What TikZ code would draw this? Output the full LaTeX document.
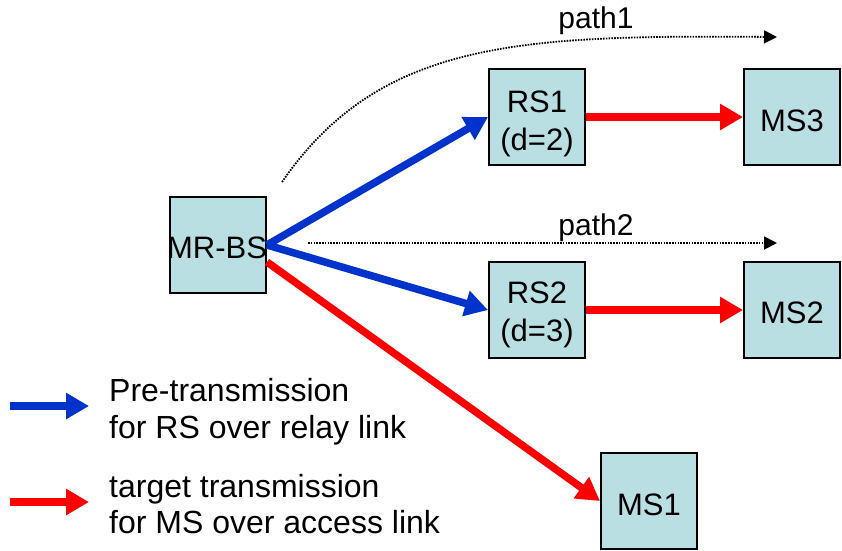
\documentclass[tikz,border=0pt]{standalone}
\usepackage{fontspec}
\setmainfont{Liberation Sans}
\usetikzlibrary{arrows.meta}
\definecolor{boxfill}{RGB}{185,223,227}
\definecolor{relayblue}{RGB}{0,51,204}
\definecolor{accessred}{RGB}{255,0,0}
\begin{document}
\begin{tikzpicture}[x=1pt,y=-1pt,
  box/.style={draw=black,line width=2pt,fill=boxfill,minimum width=96pt,minimum height=96pt,inner sep=0pt},
  lbl/.style={font=\fontsize{31}{38}\selectfont,inner sep=0pt,anchor=base},
  pathlbl/.style={font=\fontsize{30}{36}\selectfont,inner sep=0pt,anchor=base},
  relay/.style={draw=relayblue,line width=7.5pt,-{Triangle[length=23pt,width=25pt]}},
  access/.style={draw=accessred,line width=7.5pt,-{Triangle[length=23pt,width=25pt]}},
  route/.style={draw=black,line width=1.8pt,dash pattern=on 1.6pt off 1.2pt,-{Triangle[length=13pt,width=13pt]}},
  legtext/.style={font=\fontsize{32}{38}\selectfont,inner sep=0pt,anchor=base west}]
\useasboundingbox (0,0) rectangle (842,550);

% boxes
\node[box] (mrbs) at (218,245) {};
\node[box] (rs1) at (537,117) {};
\node[box] (ms3) at (792,117) {};
\node[box] (rs2) at (537,310) {};
\node[box] (ms2) at (792,310) {};
\node[box] (ms1) at (649,501) {};

% box texts
\node[lbl] (mrbst) at (217,258) {MR-BS};
\node[lbl] (rs1a) at (537,112) {RS1};
\node[lbl] (rs1b) at (537,150) {(d=2)};
\node[lbl] (rs2a) at (537,303) {RS2};
\node[lbl] (rs2b) at (537,341) {(d=3)};
\node[lbl] (ms3t) at (792,131) {MS3};
\node[lbl] (ms2t) at (792,323) {MS2};
\node[lbl] (ms1t) at (649,515) {MS1};

% links
\draw[relay] (mrbs.east) -- (rs1.west);
\draw[relay] (mrbs.east) -- (rs2.west);
\draw[access] ([yshift=-17pt]mrbs.east) -- (ms1.west);
\draw[access] (rs1.east) -- (ms3.west);
\draw[access] (rs2.east) -- (ms2.west);

% dotted paths
\coordinate (p1s) at (282,182);
\coordinate (p1e) at (777,37);
\draw[route] (p1s) .. controls (380,40) and (520,35) .. (p1e);
\node[pathlbl] (path1) at (596,28) {path1};
\coordinate (p2s) at (308,243);
\coordinate (p2e) at (777,243);
\draw[route] (p2s) -- (p2e);
\node[pathlbl] (path2) at (596,235) {path2};

% legend
\coordinate (lb1) at (10,406);
\coordinate (lb2) at (89,406);
\draw[relay] (lb1) -- (lb2);
\node[legtext] (leg1a) at (109,401) {Pre-transmission};
\node[legtext] (leg1b) at (109,438) {for RS over relay link};
\coordinate (lr1) at (10,502);
\coordinate (lr2) at (89,502);
\draw[access] (lr1) -- (lr2);
\node[legtext] (leg2a) at (109,497) {target transmission};
\node[legtext] (leg2b) at (109,533) {for MS over access link};
\end{tikzpicture}
\end{document}
